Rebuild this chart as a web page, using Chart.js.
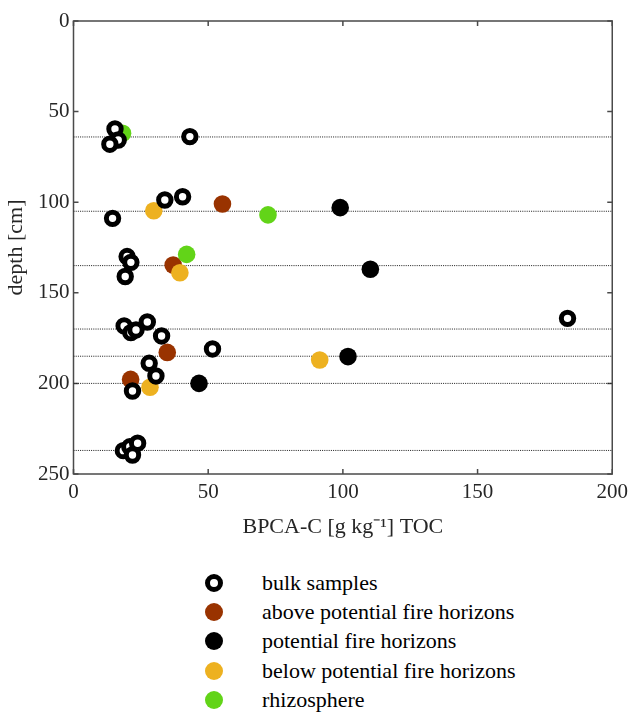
<!DOCTYPE html>
<html>
<head>
<meta charset="utf-8">
<script src="https://cdn.jsdelivr.net/npm/chart.js@4.4.1/dist/chart.umd.min.js"></script>
<style>
  body { margin: 0; background: #fff; }
  #wrap { position: relative; width: 634px; height: 713px; }
  #myChart { position: absolute; left: 0; top: 0; }
  .row { position: absolute; left: 0; width: 634px; height: 30px; font-family: "Liberation Serif", "Times New Roman", serif; font-size: 22px; color: #000; }
  .mark { position: absolute; left: 205px; top: 6px; width: 18px; height: 18px; border-radius: 50%; box-sizing: border-box; }
  .txt { position: absolute; left: 262px; top: 0; line-height: 30px; white-space: nowrap; }
</style>
</head>
<body>
<div id="wrap">
  <canvas id="myChart" width="634" height="550"></canvas>
  <div id="legend"></div>
</div>
<script>
// valores
const bulkX = [15.4, 16.6, 13.5, 43.2, 33.9, 40.5, 14.5, 19.9, 21.3, 19.2, 18.8, 21.3, 23.2, 27.4, 32.7, 51.6, 28.1, 30.6, 21.9, 183.4, 18.5, 20.9, 23.8, 21.9];
const bulkY = [59.6, 65.7, 68, 63.8, 98.8, 97, 108.9, 130, 133.2, 141, 168.3, 172, 170.5, 166.1, 173.8, 181, 188.9, 195.9, 204.2, 164.1, 237.1, 235, 233, 239.5];
const aboveX = [55.3, 37, 34.8, 21.2];
const aboveY = [101, 134.7, 182.9, 197.8];
const fireX = [99, 110.2, 101.9, 46.6];
const fireY = [103, 137, 185.2, 200];
const belowX = [29.8, 39.5, 91.4, 28.4];
const belowY = [104.7, 138.9, 187.1, 202.1];
const rhizoX = [18.2, 72.2, 42];
const rhizoY = [62, 107, 128.8];

const horizons = [64, 105, 135, 170, 185, 200, 237];
const xTicks = [0, 50, 100, 150, 200];
const yTicks = [0, 50, 100, 150, 200, 250];

const names = ['bulk samples', 'above potential fire horizons', 'potential fire horizons', 'below potential fire horizons', 'rhizosphere'];
const colors = ['#000000', '#993300', '#000000', '#EDB120', '#62D418'];

const toPoints = (xs, ys) => xs.map((v, i) => ({ x: v, y: ys[i] }));

const serif = '"Liberation Serif", "Times New Roman", serif';
const textColor = '#262626';

const filled = (label, color, pts, order) => ({
    label: label,
    data: pts,
    backgroundColor: color,
    borderWidth: 0,
    pointRadius: 8.8,
    order: order
});

const datasets = [
    {
        label: names[0],
        data: toPoints(bulkX, bulkY),
        backgroundColor: '#ffffff',
        borderColor: '#000000',
        borderWidth: 5,
        pointRadius: 6.2,
        order: 0
    },
    filled(names[1], colors[1], toPoints(aboveX, aboveY), 3),
    filled(names[2], colors[2], toPoints(fireX, fireY), 4),
    filled(names[3], colors[3], toPoints(belowX, belowY), 1),
    filled(names[4], colors[4], toPoints(rhizoX, rhizoY), 2)
];

// lineas punteadas de los horizontes
horizons.forEach(d => {
    datasets.push({
        type: 'line',
        label: 'horizon',
        data: [{ x: xTicks[0], y: d }, { x: xTicks[xTicks.length - 1], y: d }],
        borderColor: '#1a1a1a',
        borderWidth: 1,
        borderDash: [1, 1.2],
        pointRadius: 0,
        order: 10
    });
});

// marco con ticks hacia adentro
const frame = {
    id: 'frame',
    beforeDatasetsDraw(chart) {
        const { ctx, chartArea: a, scales: { x, y } } = chart;
        ctx.save();
        ctx.strokeStyle = '#4a4a4a';
        ctx.lineWidth = 1.5;
        ctx.strokeRect(a.left, a.top, a.right - a.left, a.bottom - a.top);
        ctx.beginPath();
        x.ticks.forEach(t => {
            const px = x.getPixelForValue(t.value);
            ctx.moveTo(px, a.bottom); ctx.lineTo(px, a.bottom - 5);
            ctx.moveTo(px, a.top); ctx.lineTo(px, a.top + 5);
        });
        y.ticks.forEach(t => {
            const py = y.getPixelForValue(t.value);
            ctx.moveTo(a.left, py); ctx.lineTo(a.left + 5, py);
            ctx.moveTo(a.right, py); ctx.lineTo(a.right - 5, py);
        });
        ctx.stroke();
        ctx.restore();
    }
};

const ctx = document.getElementById('myChart');

const myChart = new Chart(ctx, {
    type: 'scatter',
    data: { datasets: datasets },
    options: {
        responsive: false,
        animation: false,
        events: [],
        layout: { padding: { top: 21, right: 21, left: 0, bottom: 0 } },
        plugins: {
            legend: { display: false },
            tooltip: { enabled: false }
        },
        scales: {
            x: {
                type: 'linear',
                min: 0,
                max: 200,
                afterBuildTicks: s => { s.ticks = xTicks.map(v => ({ value: v })); },
                afterFit: s => { s.height = 76; },
                grid: { display: false, drawTicks: false },
                border: { display: false },
                ticks: { padding: 6, color: textColor, font: { family: serif, size: 21 } },
                title: {
                    display: true,
                    text: 'BPCA-C [g kg\u207B\u00B9] TOC',
                    color: textColor,
                    font: { family: serif, size: 22 },
                    padding: { top: 0, bottom: 10 }
                }
            },
            y: {
                type: 'linear',
                reverse: true,
                min: 0,
                max: 250,
                afterBuildTicks: s => { s.ticks = yTicks.map(v => ({ value: v })); },
                afterFit: s => { s.width = 73.5; },
                grid: { display: false, drawTicks: false },
                border: { display: false },
                ticks: { padding: 4, color: textColor, font: { family: serif, size: 21 } },
                title: {
                    display: true,
                    text: 'depth [cm]',
                    color: textColor,
                    font: { family: serif, size: 22 },
                    padding: { top: 3, bottom: 0 }
                }
            }
        }
    },
    plugins: [frame]
});

// leyenda vertical debajo del grafico
const legend = document.getElementById('legend');
names.forEach((n, i) => {
    const row = document.createElement('div');
    row.className = 'row';
    row.style.top = (568 + i * 29.2) + 'px';
    const m = document.createElement('div');
    m.className = 'mark';
    if (i === 0) {
        m.style.border = '5px solid #000';
        m.style.background = '#fff';
    } else {
        m.style.background = colors[i];
    }
    const t = document.createElement('div');
    t.className = 'txt';
    t.textContent = n;
    row.appendChild(m);
    row.appendChild(t);
    legend.appendChild(row);
});
</script>
</body>
</html>
